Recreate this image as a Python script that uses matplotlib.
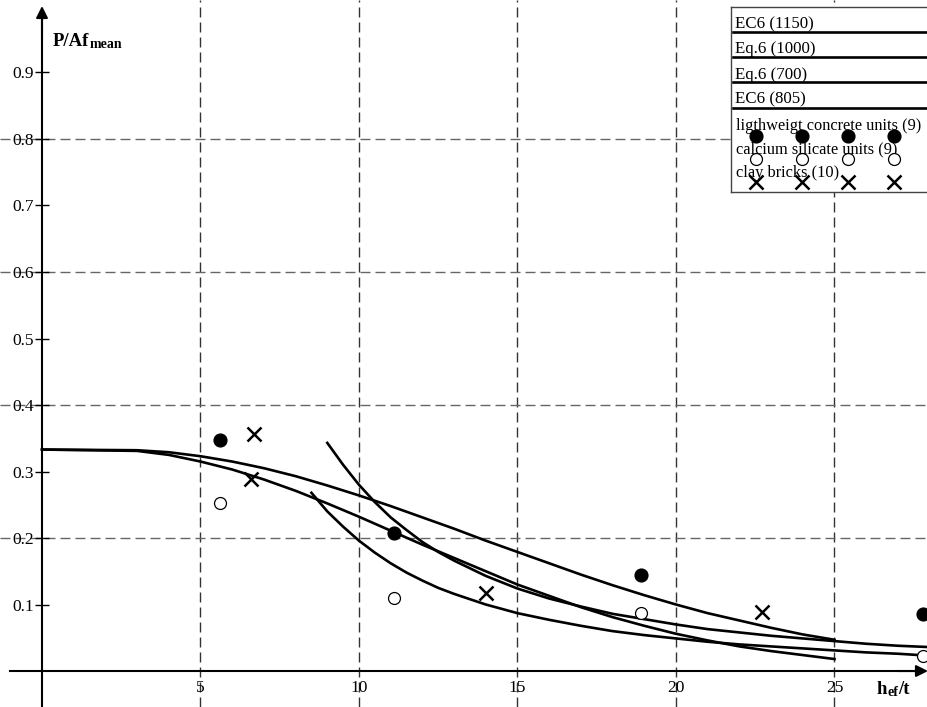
import matplotlib
matplotlib.use('Agg')
import matplotlib.pyplot as plt
import numpy as np

plt.rcParams['font.family'] = ['Liberation Serif', 'DejaVu Serif']

# ---------------- data ----------------
ec6_x = [0, 3, 4, 5, 6, 7, 8, 9, 10, 11, 12, 13, 14, 15, 16, 17, 18, 19, 20, 21, 22, 23, 24, 25]
ec6_1150 = [0.333, 0.332, 0.329, 0.323, 0.315, 0.305, 0.293, 0.279, 0.264, 0.248, 0.231, 0.214,
            0.196, 0.179, 0.162, 0.145, 0.129, 0.114, 0.100, 0.087, 0.076, 0.065, 0.055, 0.047]
ec6_805 = [0.333, 0.331, 0.325, 0.315, 0.303, 0.288, 0.271, 0.252, 0.232, 0.211, 0.190, 0.170,
           0.150, 0.130, 0.113, 0.096, 0.081, 0.068, 0.056, 0.046, 0.037, 0.030, 0.024, 0.018]

eq6_1000_x = [9, 9.5, 10, 10.5, 11, 11.5, 12, 12.5, 13, 14, 15, 16, 17, 18, 19, 20,
              21, 22, 23, 24, 25, 26, 27, 28]
eq6_1000 = [0.343, 0.310, 0.280, 0.254, 0.231, 0.212, 0.194, 0.179, 0.166, 0.143, 0.124, 0.109,
            0.097, 0.086, 0.078, 0.070, 0.063, 0.058, 0.053, 0.049, 0.045, 0.041, 0.038, 0.036]

eq6_700_x = [8.5, 9, 9.5, 10, 10.5, 11, 11.5, 12, 12.5, 13, 14, 15, 16, 17, 18, 19, 20,
             21, 22, 23, 24, 25, 26, 27, 28]
eq6_700 = [0.268, 0.240, 0.217, 0.196, 0.178, 0.162, 0.148, 0.136, 0.125, 0.116, 0.100, 0.087,
           0.077, 0.068, 0.060, 0.054, 0.049, 0.044, 0.040, 0.037, 0.034, 0.031, 0.028, 0.026,
           0.023]

lwc_x = [5.6, 11.1, 18.9, 27.8]
lwc_y = [0.347, 0.207, 0.145, 0.085]
csu_x = [5.6, 11.1, 18.9, 27.8]
csu_y = [0.252, 0.110, 0.087, 0.023]
clay_x = [6.7, 6.6, 14.0, 22.7]
clay_y = [0.357, 0.289, 0.118, 0.088]

line_labels = ['EC6 (1150)', 'Eq.6 (1000)', 'Eq.6 (700)', 'EC6 (805)']
marker_labels = ['ligthweigt concrete units (9)', 'calcium silicate units (9)', 'clay bricks (10)']

xticks = [5, 10, 15, 20, 25]
yticks = [0.1, 0.2, 0.3, 0.4, 0.5, 0.6, 0.7, 0.8, 0.9]
xgrid = [5, 10, 15, 20, 25]
ygrid = [0.2, 0.4, 0.6, 0.8]

# ---------------- figure ----------------
W_PX, H_PX = 928, 707
fig = plt.figure(figsize=(W_PX / 100, H_PX / 100), dpi=100)
ax = fig.add_axes([0, 0, 1, 1])
ax.set_xlim(-1.325, 27.95)
ax.set_ylim(-0.0541, 1.009)

for s in ['top', 'right']:
    ax.spines[s].set_visible(False)
ax.spines['left'].set_position(('data', 0))
ax.spines['bottom'].set_position(('data', 0))
ax.spines['left'].set_linewidth(1.5)
ax.spines['bottom'].set_linewidth(1.5)
ax.spines['left'].set_bounds(-0.0541, 0.99)
ax.spines['bottom'].set_bounds(-1.0, 27.8)

# arrow heads
ahead = dict(arrowstyle='-|>,head_length=0.7,head_width=0.35', lw=1.5, color='k',
             shrinkA=0, shrinkB=0, mutation_scale=10)
ax.annotate('', xy=(0, 1.0), xytext=(0, 0.95), arrowprops=ahead, annotation_clip=False)
ax.annotate('', xy=(27.95, 0), xytext=(27.0, 0), arrowprops=ahead, annotation_clip=False)

ax.set_yticks(yticks)
ax.set_yticklabels([f'{v:.1f}' for v in yticks])
ax.tick_params(axis='y', direction='inout', length=10, width=1, pad=0.5, labelsize=12.5)
ax.set_xticks(xticks)
ax.set_xticklabels([str(v) for v in xticks])
ax.tick_params(axis='x', length=0, pad=6.5, labelsize=12.5)

for v in xgrid:
    ax.axvline(v, color='#333333', lw=1, dashes=(7.2, 3.6), zorder=1)
for h in ygrid:
    ax.axhline(h, color='#666666', lw=1, dashes=(7.2, 3.6), zorder=1)

# curves
ax.plot(ec6_x, ec6_1150, color='k', lw=1.9, zorder=3, solid_joinstyle='round')
ax.plot(eq6_1000_x, eq6_1000, color='k', lw=1.9, zorder=3, solid_joinstyle='round')
ax.plot(eq6_700_x, eq6_700, color='k', lw=1.9, zorder=3, solid_joinstyle='round')
ax.plot(ec6_x, ec6_805, color='k', lw=1.9, zorder=3, solid_joinstyle='round')

style_lwc = dict(marker='o', ms=9.2, color='k', ls='none')
style_csu = dict(marker='o', ms=8.6, mfc='white', mec='k', mew=0.9, ls='none')
style_clay = dict(marker='x', ms=9.5, mew=1.8, color='k', ls='none')

ax.plot(lwc_x, lwc_y, zorder=4, **style_lwc)
ax.plot(csu_x, csu_y, zorder=4, **style_csu)
ax.plot(clay_x, clay_y, zorder=4, **style_clay)

# axis titles
big, small = 13.5, 10
dshift = -(big - small) * 0.216
t1 = ax.text(53 / W_PX, 1 - 45.7 / H_PX, 'P/Af', transform=fig.transFigure,
             fontsize=big, fontweight='bold', va='baseline', ha='left')
ax.annotate('mean', xy=(1, 0), xycoords=t1, xytext=(0, dshift), textcoords='offset points',
            fontsize=small, fontweight='bold', va='bottom', ha='left')

t3 = ax.text(876.7 / W_PX, 1 - 694.3 / H_PX, 'h', transform=fig.transFigure,
             fontsize=big, fontweight='bold', va='baseline', ha='left')
t4 = ax.annotate('ef', xy=(1, 0), xycoords=t3, xytext=(0, dshift), textcoords='offset points',
                 fontsize=small, fontweight='bold', va='bottom', ha='left')
ax.annotate('/t', xy=(1, 0), xycoords=(t4, t3), fontsize=big, fontweight='bold',
            va='bottom', ha='left')

# ---------------- legend (drawn as an inset box) ----------------
L0, T0, B0 = 730.7, 7.3, 191.7
LW = W_PX - L0 + 6
LH = B0 - T0
ax_leg = fig.add_axes([L0 / W_PX, 1 - B0 / H_PX, LW / W_PX, LH / H_PX], zorder=5)
ax_leg.set_xlim(0, LW)
ax_leg.set_ylim(LH, 0)
ax_leg.set_xticks([])
ax_leg.set_yticks([])
ax_leg.set_facecolor('white')
for s in ax_leg.spines.values():
    s.set_color('#444444')
    s.set_linewidth(1.0)
ax_leg.spines['right'].set_visible(False)

leg_fs = 12.2
for i, lab in enumerate(line_labels):
    yl = 24.4 + 25.3 * i
    ax_leg.plot([2.6, LW], [yl, yl], color='k', lw=1.9)
    ax_leg.text(4.8, yl - 3.8, lab, fontsize=leg_fs, va='baseline', ha='left')

for j, (lab, st) in enumerate(zip(marker_labels, [style_lwc, style_csu, style_clay])):
    yb = 122.7 + 23.3 * j
    ax_leg.text(5.0, yb, lab, fontsize=11.8, va='baseline', ha='left', zorder=2)
    mx = 25.6 + 46.0 * np.arange(4)
    ax_leg.plot(mx, np.full(4, yb + 5.5), zorder=3, **st)

fig.savefig('out.png', dpi=100)
